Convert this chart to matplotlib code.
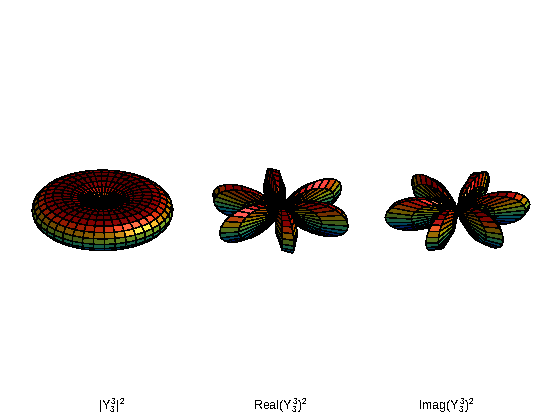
import numpy as np
import matplotlib
matplotlib.use("Agg")
import matplotlib.pyplot as plt
from matplotlib import colormaps

# Chart content
labels = [r"$|Y_3^3|^2$", r"$\mathrm{Real}(Y_3^3)^2$", r"$\mathrm{Imag}(Y_3^3)^2$"]
parts = ["abs", "real", "imag"]
centers_px = [(102.5, 213.5), (280.5, 214.0), (457.5, 214.5)]
panel_scale = [1.0, 1.09, 1.07]
label_x_px = [111.5, 280, 446.5]
label_y_px = 406
n_cells = 40           # mesh cells in each direction
elev, azim = 29.0, -127.5

plt.rcParams["text.antialiased"] = False
plt.rcParams["mathtext.fontset"] = "custom"
plt.rcParams["mathtext.rm"] = "Liberation Sans"
plt.rcParams["mathtext.it"] = "Liberation Sans"
plt.rcParams["mathtext.bf"] = "Liberation Sans"
plt.rcParams["font.family"] = "Liberation Sans"

FW, FH = 560, 420
fig = plt.figure(figsize=(FW / 100, FH / 100), dpi=100, facecolor="white")

# The labelled function Y_3^3 (angular part, normalised): the surface's definition
delta = np.pi / n_cells
theta, phi = np.meshgrid(np.arange(n_cells + 1) * delta, np.arange(n_cells + 1) * 2 * delta, indexing="ij")
Y = np.sin(theta) ** 3 * np.exp(3j * phi)

def radius(part):
    if part == "abs":
        return np.abs(Y) ** 2
    return (Y.real if part == "real" else Y.imag) ** 2

# Light in camera coordinates (right, up, toward viewer)
e, a = np.radians(elev), np.radians(azim)
V = np.array([np.cos(e) * np.cos(a), np.cos(e) * np.sin(a), np.sin(e)])
Rt = np.cross([0, 0, 1], V); Rt /= np.linalg.norm(Rt)
Up = np.cross(V, Rt)
L = 0.65 * Rt + 0.75 * Up + 0.4 * V
L /= np.linalg.norm(L)

def face_colors(x, y, z):
    d1 = np.stack([x[1:, 1:] - x[:-1, :-1], y[1:, 1:] - y[:-1, :-1], z[1:, 1:] - z[:-1, :-1]], -1)
    d2 = np.stack([x[1:, :-1] - x[:-1, 1:], y[1:, :-1] - y[:-1, 1:], z[1:, :-1] - z[:-1, 1:]], -1)
    n = np.cross(d2, d1)
    n /= np.maximum(np.linalg.norm(n, axis=-1, keepdims=True), 1e-12)
    zc = (z[1:, 1:] + z[:-1, :-1] + z[1:, :-1] + z[:-1, 1:]) / 4
    base = colormaps["jet"]((zc - z.min()) / (z.max() - z.min()))[..., :3]
    nl = n @ L
    diff = np.clip(nl, 0, None)
    r = 2 * nl[..., None] * n - L
    spec = np.clip(r @ V, 0, None) ** 10
    rgb = base * (0.36 + 0.42 * diff[..., None]) + 0.85 * spec[..., None] * (0.55 + 0.45 * base)
    rgb = np.clip(rgb, 0, 1)
    # faces turned away from the camera are hidden, as a depth buffer would hide them
    visible = (n @ V) > 0
    return np.dstack([rgb, visible.astype(float)]), visible

W = 237.0
for part, (cx, cy), lab, lx, s in zip(parts, centers_px, labels, label_x_px, panel_scale):
    Wp = W * s
    ox = 0.95 / 1.85 * Wp
    oy = 0.5 * Wp
    ax = fig.add_axes([(cx - ox) / FW, 1 - (cy + oy) / FH, Wp / FW, Wp / FH], projection="3d", proj_type="ortho")
    ax.patch.set_alpha(0)
    rho = radius(part)
    x = rho * np.sin(theta) * np.cos(phi)
    y = rho * np.sin(theta) * np.sin(phi)
    z = rho * np.cos(theta)
    fc, vis = face_colors(x, y, z)
    surf = ax.plot_surface(x, y, z, rstride=1, cstride=1, facecolors=fc, shade=False,
                           linewidth=0.3, antialiased=False)
    ec = np.zeros((vis.size, 4))
    ec[:, 3] = vis.ravel().astype(float)
    surf.set_facecolor(fc.reshape(-1, 4))
    surf.set_edgecolor(ec)
    ax.set_xlim(-1, 1); ax.set_ylim(-1, 1); ax.set_zlim(-1, 1)
    ax.set_box_aspect((1, 1, 1))
    ax.view_init(elev=elev, azim=azim)
    ax.set_axis_off()
    fig.text(lx / FW, 1 - label_y_px / FH, lab, fontsize=9, ha="center", va="center", color="black")

fig.savefig("out.png", dpi=100, facecolor="white")
